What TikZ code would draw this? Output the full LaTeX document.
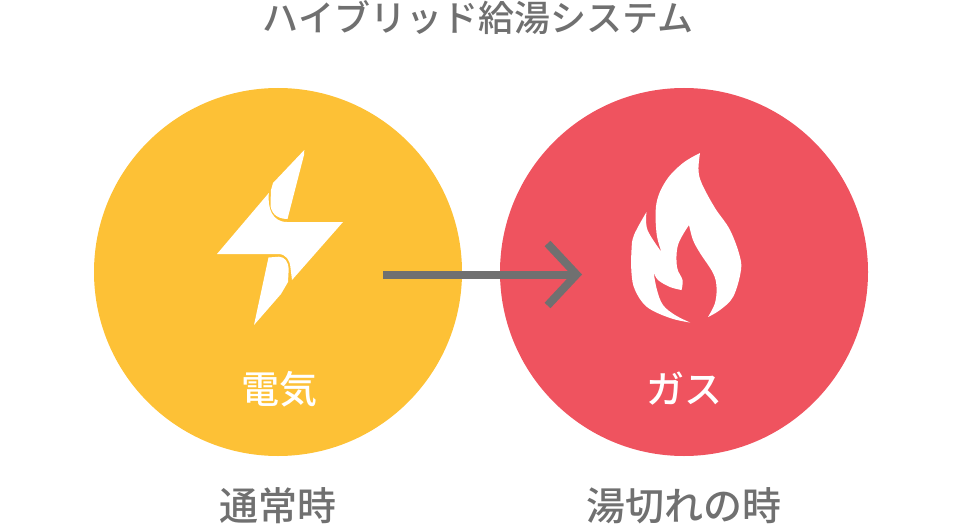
\documentclass[tikz,border=0pt]{standalone}
\usepackage{fontspec}
\usetikzlibrary{arrows.meta}
\newfontfamily\cjk{Noto Sans CJK JP Medium}
\definecolor{elecyellow}{HTML}{FDC136}
\definecolor{gasred}{HTML}{EF535F}
\definecolor{arrowgrey}{HTML}{707070}
\tikzset{
  source/.style={circle,minimum size=368pt,inner sep=0pt},
  title/.style={text=arrowgrey,font=\fontsize{36pt}{36pt}\cjk,inner sep=0pt},
  caption/.style={text=arrowgrey,font=\fontsize{39pt}{39pt}\cjk,inner sep=0pt},
  inlabel/.style={text=white,font=\fontsize{38pt}{38pt}\cjk,inner sep=0pt},
  soft/.style={smooth,tension=0.6},
  line/.style={draw=arrowgrey,line width=8pt,-{Straight Barb[length=29pt,width=62pt,line width=8pt]}}
}
\begin{document}
\begin{tikzpicture}[x=1pt,y=-1pt]
    \useasboundingbox (0,0) rectangle (960,524);

    % Draw the two circles.
    \node[source,fill=elecyellow] (elec) at (278,272) {};
    \node[source,fill=gasred] (gas) at (684,272) {};

    % Draw the bolt, three pieces.
    \fill[white] (304.3,150) -- (304,155) -- (287.5,219) .. controls (276,219) and (270,212) .. (270.5,203) -- (271,190) -- (273,183) -- cycle;
    \fill[white] (268.8,193) .. controls (267.5,208) and (272,222) .. (287,222) -- (343,222) -- (292,280) -- (290.5,268) .. controls (290,260) and (286,254) .. (278,254) -- (217,254) -- cycle;
    \fill[white] (268.5,257.5) -- (279,256.7) .. controls (285,257) and (288.5,262) .. (288.7,269) -- (288,282) -- (281,294) -- (254,325) -- cycle;

    % Draw the flame, straight joins at the tips.
    \fill[white] plot[soft] coordinates {(700,153) (698.5,170) (702,184) (715,208) (730,230) (740,257) (740.5,273) (733,297) (720,310) (708,317)}
      -- plot[soft] coordinates {(708,317) (715,303) (716.5,287) (713,273) (700,253) (693,240) (689,225)}
      -- plot[soft] coordinates {(689,225) (678,245) (677,267) (682.5,280) (681.5,290)}
      -- plot[soft] coordinates {(681.5,290) (670,287) (658,280) (653.5,272)}
      -- plot[soft] coordinates {(653.5,272) (657,290) (663,305) (675,315) (690,322.5)}
      -- plot[soft] coordinates {(690,322.5) (670,318) (647,307) (635,290) (631.5,273) (631.5,250) (634,235) (646.5,212)}
      -- plot[soft] coordinates {(646.5,212) (647.5,230) (661.5,252)}
      -- plot[soft] coordinates {(661.5,252) (656.5,233) (656.5,203) (666.5,180) (683,163) (700,153)} -- cycle;

    % Draw the connector.
    \coordinate (start) at (383,274.5);
    \coordinate (stop) at (582,274.5);
    \draw[line] (start) -- (stop);

    % Labels.
    \node[title] (head) at (478,18) {ハイブリッド給湯システム};
    \node[inlabel] (eleclabel) at (279,389) {電気};
    \node[inlabel] (gaslabel) at (684,389) {ガス};
    \node[caption] (normal) at (278,506) {通常時};
    \node[caption] (empty) at (684,506) {湯切れの時};
\end{tikzpicture}
\end{document}
